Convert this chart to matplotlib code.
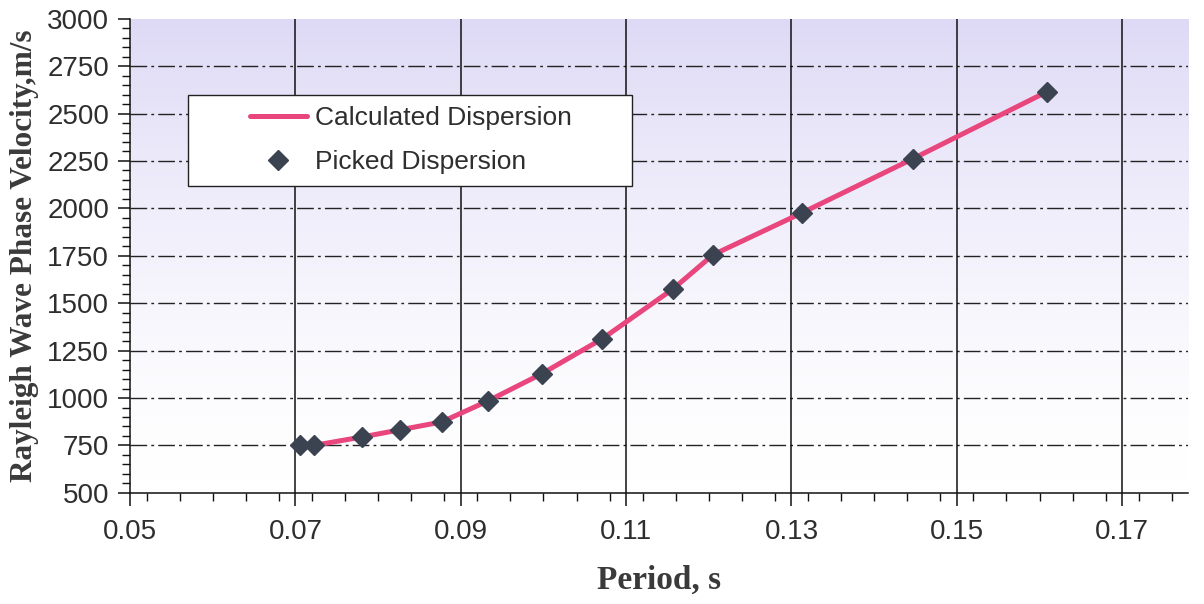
import numpy as np
import matplotlib.pyplot as plt
from matplotlib.ticker import MultipleLocator
from matplotlib.colors import LinearSegmentedColormap
from matplotlib.patches import Rectangle

# picked dispersion points (period s, phase velocity m/s)
period = [0.0705, 0.0722, 0.0781, 0.0826, 0.0877, 0.0933, 0.0998,
          0.1071, 0.1157, 0.1205, 0.1313, 0.1447, 0.1609]
velocity = [750, 750, 795, 832, 874, 985, 1128,
            1312, 1576, 1755, 1977, 2262, 2615]

x_ticks = [0.05, 0.07, 0.09, 0.11, 0.13, 0.15, 0.17]
y_ticks = [500, 750, 1000, 1250, 1500, 1750, 2000, 2250, 2500, 2750, 3000]

LINE_COLOR = "#e8467c"
MARKER_COLOR = "#3b4250"
TEXT_COLOR = "#2e2e2e"

fig = plt.figure(figsize=(12.04, 6.04), dpi=100)
ax = fig.add_axes([0.108, 0.184, 0.879, 0.785])

# lavender wash fading to white toward the bottom of the plot area
grad = np.linspace(1, 0, 256) ** 1.5
grad = np.vstack([grad] * 2).T
cmap = LinearSegmentedColormap.from_list("wash", ["#ffffff", "#dedaf6"])
ax.imshow(grad, cmap=cmap, aspect="auto", extent=[0, 1, 0, 1],
          transform=ax.transAxes, zorder=0, vmin=0, vmax=1)

for y in y_ticks[1:-1]:
    ax.axhline(y, color="#222222", lw=1.0, ls=(0, (12, 3, 2, 3)), zorder=1)
for x in x_ticks[1:]:
    ax.axvline(x, color="#111111", lw=1.1, zorder=1)

ax.plot(period, velocity, color=LINE_COLOR, lw=3.6, zorder=3,
        label="Calculated Dispersion", solid_capstyle="round")
ax.plot(period, velocity, ls="none", marker="D", ms=10, color=MARKER_COLOR,
        zorder=4, label="Picked Dispersion")

ax.set_xlim(0.05, 0.178)
ax.set_ylim(500, 3000)
ax.set_xticks(x_ticks)
ax.set_yticks(y_ticks)
ax.set_xticklabels([f"{v:.2f}" for v in x_ticks])
ax.xaxis.set_minor_locator(MultipleLocator(0.004))
ax.yaxis.set_minor_locator(MultipleLocator(50))

for s in ["top", "right"]:
    ax.spines[s].set_visible(False)
for s in ["left", "bottom"]:
    ax.spines[s].set_color("#111111")
    ax.spines[s].set_linewidth(1.1)

ax.tick_params(axis="both", which="major", labelsize=20, colors="#111111",
               labelcolor=TEXT_COLOR, length=9, width=1.1)
ax.tick_params(axis="both", which="minor", colors="#111111", length=6, width=1.0)
ax.tick_params(axis="x", which="major", pad=10)
ax.tick_params(axis="y", which="major", pad=6)
for lab in ax.get_xticklabels() + ax.get_yticklabels():
    lab.set_fontfamily("Liberation Sans")

ax.set_xlabel("Period, s", fontsize=24, fontweight="bold",
              family="Liberation Serif", color="#3a3a3a", labelpad=14)
ax.set_ylabel("Rayleigh Wave Phase Velocity,m/s", fontsize=22.5, fontweight="bold",
              family="Liberation Serif", color="#3a3a3a", labelpad=6)

# legend box drawn separately so it can be wider than its contents
ax.add_patch(Rectangle((0.0548, 0.6477), 0.4197, 0.192, transform=ax.transAxes,
                       facecolor="white", edgecolor="#222222", lw=1.0, zorder=5))
leg = ax.legend(loc="center left", bbox_to_anchor=(0.1134, 0.7437),
                prop={"family": "Liberation Sans", "size": 19},
                frameon=False, borderpad=0, handlelength=2.15,
                handletextpad=0.3, labelspacing=0.75, borderaxespad=0)
leg.set_zorder(6)
for t in leg.get_texts():
    t.set_color(TEXT_COLOR)

fig.savefig("out.png", dpi=100, facecolor="white")
